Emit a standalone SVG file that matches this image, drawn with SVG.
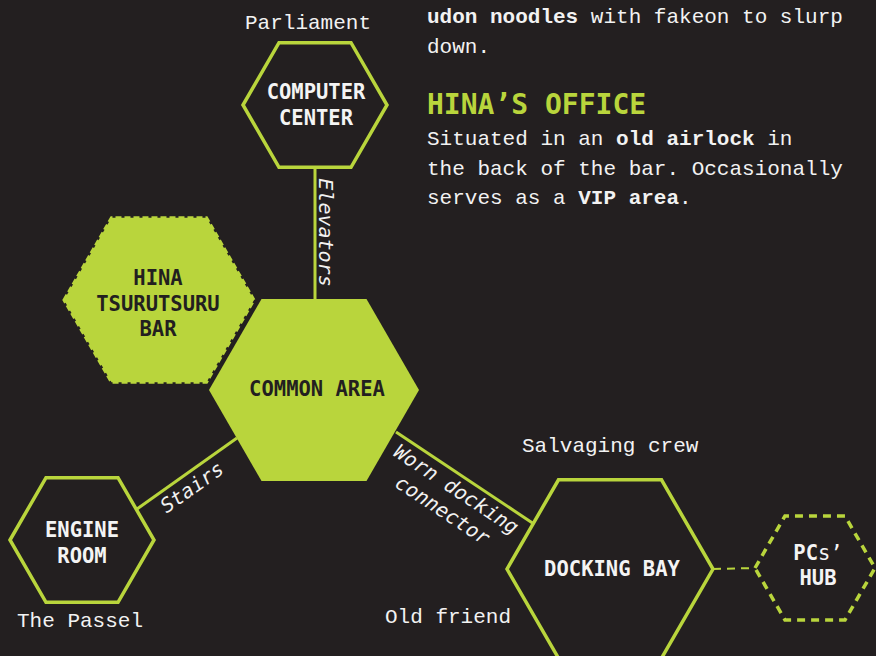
<svg xmlns="http://www.w3.org/2000/svg" width="876" height="656" viewBox="0 0 876 656">
<style>
.body{font-family:"Liberation Mono","DejaVu Sans Mono",monospace;font-size:21px;fill:#f2f2f2}
.b{font-weight:bold}
.lbl{font-family:"DejaVu Sans Mono","Liberation Mono",monospace;font-weight:bold;font-size:20.5px;text-anchor:middle}
.wt{fill:#f4f4f4}
.dk{fill:#231f20}
.edge{font-family:"DejaVu Sans Mono","Liberation Mono",monospace;font-style:italic;font-size:20px;fill:#f2f2f2;text-anchor:middle}
.hex{fill:#231f20;stroke:#b9d53c;stroke-width:3.5;stroke-linejoin:miter}
.hexf{fill:#b9d53c;stroke:none}
.conn{stroke:#b9d53c;stroke-width:3;fill:none}
</style>
<rect width="876" height="656" fill="#231f20"/>

<g id="notes">
<text class="body" x="427" y="23"><tspan class="b">udon noodles</tspan> with fakeon to slurp</text>
<text class="body" x="427" y="53">down.</text>
<text x="427" y="114" style="font-family:'DejaVu Sans Mono','Liberation Mono',monospace;font-weight:bold;font-size:28px;fill:#b9d53c">HINA’S OFFICE</text>
<text class="body" x="427" y="145">Situated in an <tspan class="b">old airlock</tspan> in</text>
<text class="body" x="427" y="175">the back of the bar. Occasionally</text>
<text class="body" x="427" y="204">serves as a <tspan class="b">VIP area</tspan>.</text>
<text class="body" x="245" y="29">Parliament</text>
<text class="body" x="522" y="452">Salvaging crew</text>
<text class="body" x="385" y="623">Old friend</text>
<text class="body" x="17" y="627">The Passel</text>
</g>

<g id="connectors">
<line class="conn" x1="315" y1="167" x2="315" y2="300"/>
<line class="conn" x1="137" y1="509" x2="237" y2="438"/>
<line class="conn" x1="396" y1="432" x2="534" y2="524"/>
<line x1="713" y1="569" x2="755" y2="568" stroke="#b9d53c" stroke-width="2" stroke-dasharray="8 6"/>
<text class="edge" transform="translate(319,232.5) rotate(90)" x="0" y="0">Elevators</text>
<text class="edge" transform="translate(187,473.5) rotate(-35.4)" x="-4" y="21">Stairs</text>
<g transform="translate(465,478) rotate(33.5)">
<text class="edge" x="-1" y="21">Worn docking</text>
<text class="edge" x="-1" y="46">connector</text>
</g>
</g>

<g id="computer-center">
<polygon class="hex" points="243,105 279,42.65 351,42.65 387,105 351,167.35 279,167.35"/>
<text class="lbl wt" x="316" y="99">COMPUTER</text>
<text class="lbl wt" x="316" y="125">CENTER</text>
</g>

<g id="hina-bar">
<polygon points="64,300 111.5,217.7 206.5,217.7 254,300 206.5,382.3 111.5,382.3" fill="#b9d53c" stroke="#b9d53c" stroke-width="3" stroke-dasharray="6 3"/>
<text class="lbl dk" x="158" y="285">HINA</text>
<text class="lbl dk" x="158" y="311">TSURUTSURU</text>
<text class="lbl dk" x="158" y="336">BAR</text>
</g>

<g id="common-area">
<polygon class="hexf" points="209,390 261.5,299.07 366.5,299.07 419,390 366.5,480.93 261.5,480.93"/>
<text class="lbl dk" x="317" y="396">COMMON AREA</text>
</g>

<g id="engine-room">
<polygon class="hex" points="10,540 46,477.65 118,477.65 154,540 118,602.35 46,602.35"/>
<text class="lbl wt" x="82" y="537">ENGINE</text>
<text class="lbl wt" x="82" y="563">ROOM</text>
</g>

<g id="docking-bay">
<polygon class="hex" points="507,569 558.5,479.8 661.5,479.8 713,569 661.5,658.2 558.5,658.2"/>
<text class="lbl wt" x="612" y="576">DOCKING BAY</text>
</g>

<g id="pcs-hub">
<polygon points="755,568 785,516 845,516 875,568 845,620 785,620" fill="none" stroke="#b9d53c" stroke-width="3.5" stroke-dasharray="8 6"/>
<text class="lbl wt" x="818" y="560">PC<tspan font-weight="normal">s’</tspan></text>
<text class="lbl wt" x="818" y="585">HUB</text>
</g>
</svg>
